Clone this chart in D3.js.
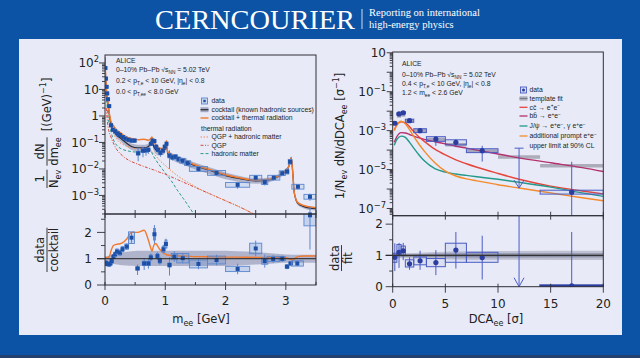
<!DOCTYPE html>
<html><head><meta charset="utf-8">
<script src="https://cdn.jsdelivr.net/npm/d3@7/dist/d3.min.js"></script>
<style>html,body{margin:0;padding:0;background:#0c53a5;overflow:hidden}svg{display:block}</style>
</head><body>
<svg id="chart" width="640" height="358" xmlns="http://www.w3.org/2000/svg"></svg>
<script>
// ================= DATA =================
// ---- left: invariant-mass spectrum ----
const massGrid=[0,0.01,0.02,0.03,0.05,0.07,0.1,0.14,0.2,0.25,0.3,0.36,0.44,0.54,0.65,0.72,0.76,0.78,0.8,0.84,0.9,0.97,1.0,1.02,1.04,1.1,1.2,1.3,1.5,1.8,2.0,2.2,2.5,2.7,2.8,2.9,3.0,3.05,3.09,3.11,3.14,3.2,3.3,3.5];
const cocktailLog10=[2.2,1.45,1.1,0.8,0.45,0.1,-0.33,-0.55,-0.74,-0.82,-0.92,-1.03,-1.15,-1.2,-1.2,-1.15,-1.0,-0.9,-1.1,-1.28,-1.35,-1.32,-1.25,-1.0,-1.42,-1.5,-1.62,-1.7,-1.88,-2.1,-2.25,-2.35,-2.45,-2.42,-2.36,-2.25,-2.07,-1.9,-1.58,-2.0,-2.9,-3.3,-3.42,-3.5];
const cocktailThermalLog10=[2.22,1.47,1.12,0.82,0.48,0.13,-0.22,-0.37,-0.55,-0.62,-0.71,-0.79,-0.85,-0.9,-0.88,-0.92,-0.85,-0.79,-0.94,-1.08,-1.21,-1.23,-1.18,-0.94,-1.36,-1.45,-1.58,-1.66,-1.85,-2.07,-2.22,-2.32,-2.43,-2.4,-2.34,-2.23,-2.05,-1.9,-1.59,-2.02,-2.9,-3.27,-3.38,-3.46];
const thermalOverCocktail=[1.05,1.05,1.05,1.05,1.06,1.08,1.3,1.5,1.55,1.57,1.62,1.75,2.0,2.0,2.08,1.7,1.4,1.28,1.45,1.58,1.38,1.22,1.18,1.15,1.14,1.12,1.1,1.1,1.08,1.07,1.06,1.06,1.05,1.05,1.05,1.05,1.04,1.0,0.97,0.95,1.0,1.08,1.1,1.1];
const cocktailBandLo=[.9,.9,.9,.9,.88,.86,.84,.8,.78,.76,.75,.74,.73,.72,.72,.72,.72,.72,.72,.72,.72,.72,.72,.72,.72,.72,.72,.72,.72,.72,.72,.74,.78,.8,.82,.84,.85,.85,.85,.85,.85,.85,.85,.85];
const cocktailBandHi=[1.08,1.08,1.08,1.08,1.1,1.12,1.14,1.18,1.2,1.22,1.24,1.26,1.28,1.3,1.3,1.3,1.3,1.3,1.3,1.3,1.3,1.3,1.3,1.3,1.3,1.3,1.3,1.3,1.3,1.3,1.3,1.28,1.25,1.22,1.2,1.18,1.16,1.16,1.15,1.15,1.15,1.15,1.15,1.15];
const thermalMass=[0.02,0.05,0.1,0.15,0.2,0.3,0.4,0.5,0.6,0.7,0.8,0.9,1.0,1.1,1.2,1.4,1.6,1.8,2.0,2.2,2.4,2.55];
const qgpHadLog10=[0.92,0.15,-0.39,-0.71,-0.89,-1.08,-1.17,-1.22,-1.24,-1.21,-1.39,-1.66,-1.87,-2.07,-2.25,-2.54,-2.79,-3.0,-3.2,-3.4,-3.62,-3.8];
const qgpLog10=[0.3,-0.4,-0.8,-1.08,-1.28,-1.52,-1.68,-1.78,-1.87,-1.95,-2.03,-2.12,-2.2,-2.3,-2.4,-2.6,-2.8,-3.0,-3.2,-3.4,-3.62,-3.8];
const hadMass=[0.02,0.05,0.1,0.15,0.2,0.3,0.4,0.5,0.6,0.7,0.75,0.8,0.9,1.0,1.1,1.2,1.3,1.4,1.5,1.55];
const hadLog10=[0.8,0.0,-0.6,-0.95,-1.12,-1.27,-1.33,-1.36,-1.35,-1.3,-1.28,-1.5,-1.85,-2.15,-2.45,-2.8,-3.12,-3.45,-3.8,-4.0];
// data: [m, log10 value, half-width, statLo(dec), statHi(dec), sys(dec)]
const dataMee=[[0.005,1.81,0.005,0.03,0.03,0.05],[0.015,1.41,0.005,0.03,0.03,0.05],[0.025,1.10,0.005,0.03,0.03,0.05],[0.035,0.85,0.005,0.03,0.03,0.05],[0.05,0.63,0.01,0.03,0.03,0.05],[0.07,0.37,0.01,0.03,0.03,0.05],[0.10,-0.35,0.01,0.04,0.04,0.05],[0.13,-0.52,0.02,0.04,0.04,0.06],[0.17,-0.58,0.02,0.04,0.04,0.06],[0.21,-0.66,0.02,0.05,0.05,0.06],[0.25,-0.72,0.02,0.05,0.05,0.06],[0.30,-0.80,0.02,0.05,0.05,0.06],[0.34,-0.86,0.02,0.05,0.05,0.06],[0.39,-0.90,0.025,0.05,0.05,0.06],[0.44,-0.93,0.025,0.06,0.06,0.06],[0.49,-0.93,0.025,0.06,0.06,0.06],[0.55,-1.41,0.03,0.3,0.2,0.06],[0.63,-1.31,0.03,0.25,0.15,0.06],[0.68,-1.30,0.02,0.2,0.12,0.06],[0.72,-1.28,0.02,0.15,0.1,0.06],[0.76,-1.05,0.015,0.08,0.06,0.06],[0.79,-0.93,0.015,0.05,0.05,0.06],[0.82,-0.95,0.015,0.06,0.06,0.06],[0.85,-1.16,0.015,0.08,0.07,0.06],[0.88,-1.28,0.015,0.12,0.1,0.06],[0.92,-1.39,0.02,0.15,0.1,0.06],[0.96,-1.31,0.02,0.1,0.08,0.06],[0.99,-1.16,0.015,0.08,0.07,0.06],[1.02,-1.05,0.015,0.06,0.06,0.06],[1.07,-1.50,0.025,0.5,0.2,0.08],[1.12,-1.56,0.025,0.12,0.1,0.08],[1.17,-1.54,0.025,0.1,0.08,0.08],[1.22,-1.63,0.025,0.1,0.08,0.08],[1.29,-1.69,0.05,0.1,0.08,0.09],[1.37,-1.78,0.05,0.1,0.08,0.09],[1.55,-2.00,0.15,0.1,0.08,0.09],[1.85,-2.15,0.15,0.1,0.08,0.09],[2.20,-2.60,0.2,0.15,0.1,0.09],[2.50,-2.33,0.1,0.1,0.08,0.09],[2.65,-2.50,0.05,0.12,0.1,0.09],[2.80,-2.33,0.1,0.08,0.07,0.09],[2.94,-2.16,0.05,0.07,0.06,0.09],[3.02,-2.10,0.03,0.07,0.06,0.09],[3.07,-1.73,0.03,0.05,0.05,0.09],[3.20,-2.67,0.1,0.1,0.08,0.09],[3.40,-3.05,0.1,0.15,0.12,0.09],[3.40,-3.72,0,0.3,0.3,0]];
// ratio: [m, data/cocktail, half-width, statLo, statHi, sys]
const ratioMee=[[0.005,0.85,0.005,0.05,0.05,0.05],[0.015,0.84,0.005,0.05,0.05,0.05],[0.025,0.81,0.005,0.05,0.05,0.05],[0.035,0.80,0.005,0.05,0.05,0.05],[0.05,0.79,0.01,0.05,0.05,0.05],[0.07,0.78,0.01,0.05,0.05,0.05],[0.09,0.82,0.01,0.06,0.06,0.05],[0.11,0.91,0.01,0.07,0.07,0.07],[0.14,1.08,0.02,0.08,0.08,0.08],[0.17,1.17,0.02,0.08,0.08,0.08],[0.20,1.27,0.02,0.1,0.1,0.1],[0.25,1.23,0.02,0.1,0.1,0.1],[0.29,1.36,0.02,0.1,0.1,0.1],[0.36,1.46,0.03,0.12,0.12,0.1],[0.44,1.80,0.05,0.2,0.2,0.22],[0.54,0.63,0.03,0.25,0.15,0.06],[0.65,0.82,0.03,0.25,0.2,0.08],[0.72,0.82,0.03,0.2,0.2,0.08],[0.76,1.05,0.015,0.15,0.15,0.1],[0.82,1.93,0.015,0.35,0.35,0.22],[0.87,1.10,0.015,0.15,0.15,0.1],[0.91,0.92,0.02,0.15,0.15,0.1],[0.97,1.36,0.02,0.15,0.15,0.12],[1.01,1.56,0.015,0.2,0.2,0.15],[1.07,0.76,0.025,0.4,0.3,0.08],[1.15,1.08,0.05,0.2,0.2,0.12],[1.29,1.02,0.1,0.2,0.2,0.18],[1.55,0.80,0.15,0.2,0.2,0.15],[1.85,0.95,0.15,0.2,0.2,0.15],[2.20,0.61,0.2,0.2,0.2,0.1],[2.50,1.39,0.1,0.3,0.3,0.2],[2.65,0.91,0.05,0.25,0.25,0.12],[2.79,0.99,0.1,0.15,0.15,0.1],[2.94,1.00,0.05,0.12,0.12,0.08],[3.02,0.70,0.03,0.1,0.1,0.06],[3.08,0.82,0.03,0.08,0.08,0.06],[3.19,0.82,0.1,0.1,0.1,0.1],[3.40,2.65,0.1,1.3,0.5,0.4]];
const leftTopTicks=[[2,"10","2"],[1,"10",""],[0,"1",""],[-1,"10","−1"],[-2,"10","−2"],[-3,"10","−3"]];
const leftXTicks=[0,1,2,3];
const ratioYTicks=[0,1,2];

// ---- right: DCA spectrum ----
const dcaGrid=[0.15,0.4,0.8,1.2,1.6,2,2.5,3,4,5,6,7,8,10,12,15,18,20];
const ccLog10=[-2.95,-2.7,-2.55,-2.6,-2.8,-3.05,-3.33,-3.55,-3.95,-4.25,-4.5,-4.7,-4.88,-5.2,-5.5,-5.85,-6.1,-6.25];
const bbLog10=[-3.6,-3.3,-3.1,-3.12,-3.2,-3.28,-3.37,-3.45,-3.57,-3.68,-3.8,-3.9,-4.0,-4.2,-4.4,-4.65,-4.9,-5.1];
const jpsiLog10=[-3.75,-3.45,-3.28,-3.35,-3.6,-3.9,-4.25,-4.55,-4.95,-5.13,-5.23,-5.3,-5.37,-5.5,-5.65,-5.9,-6.2,-6.38];
const promptLog10=[-3.0,-2.7,-2.52,-2.65,-2.95,-3.3,-3.7,-4.05,-4.65,-5.08,-5.33,-5.48,-5.58,-5.78,-5.95,-6.2,-6.45,-6.6];
// template fit per bin: [x0, x1, log10]
const templateFit=[[0,0.4,-2.6],[0.4,0.8,-2.25],[0.8,1.2,-2.2],[1.2,2.0,-2.5],[2.0,3.2,-3.0],[3.2,5.0,-3.45],[5.0,7.0,-3.72],[7.0,10.0,-4.05],[10,14,-4.36],[14,20,-4.81]];
// data: [dca, log10, x0, x1, sys(dec), statLo(dec), statHi(dec)]
const dataDca=[[0.2,-2.62,0,0.4,0.05,0.04,0.04],[0.6,-2.14,0.4,0.8,0.05,0.04,0.04],[1.0,-2.08,0.8,1.2,0.05,0.04,0.04],[1.6,-2.49,1.2,2.0,0.08,0.06,0.06],[2.6,-3.00,2.0,3.2,0.1,0.1,0.1],[4.1,-3.43,3.2,5.0,0.12,0.35,0.15],[6.0,-3.60,5.0,7.0,0.13,0.25,0.15],[8.5,-4.03,7.0,10.0,0.1,0.56,0.25],[17,-6.16,14,20,0.1,2.0,1.56]];
const upperLimit={x:12,topLog10:-3.9,tipLog10:-5.95};
// ratio: [dca, data/fit, x0, x1, statLo, statHi, sysLo, sysHi]
const ratioDca=[[0.2,0.94,0,0.4,0.44,0.45,0.16,0.13],[0.6,1.10,0.4,0.8,0.5,0.3,0.1,0.25],[1.0,1.15,0.8,1.2,0.3,0.25,0.15,0.15],[1.6,0.73,1.2,2.0,0.19,0.21,0.1,0.13],[2.6,0.83,2.0,3.2,0.29,0.32,0.13,0.12],[4.1,0.77,3.2,5.0,0.4,0.4,0.13,0.13],[6.0,1.17,5.0,7.0,0.59,0.58,0.39,0.22],[8.5,0.93,7.0,10.0,0.7,0.7,0.15,0.17],[17,0.03,14,20,0.03,1.72,0.02,0.02]];
const fitBandDca=[0,2,5,10,20];
const fitBandOuterLo=[0.92,0.9,0.88,0.86,0.85], fitBandOuterHi=[1.06,1.08,1.12,1.14,1.15];
const fitBandInnerLo=[0.96,0.95,0.94,0.93,0.93], fitBandInnerHi=[1.03,1.04,1.06,1.07,1.07];
const rightTopTicks=[[1,"10",""],[-1,"10","−1"],[-3,"10","−3"],[-5,"10","−5"],[-7,"10","−7"]];
const rightXTicks=[0,5,10,15,20];

// ================= DRAW =================
const svg=d3.select('#chart');
const F='DejaVu Sans, sans-serif', FS='Liberation Sans, Arial, sans-serif';
const LF=6.8;
const P=v=>Math.pow(10,v);
const COL={frame:'#2e2e36',mark:'#1d4fa6',box:'#5a87cf',orange:'#f07a30',red:'#d9453a',teal:'#2a9a8c',
  rMark:'#2b3d9e',rBox:'#4a5cc4',cc:'#e6453c',bb:'#b5306e',jp:'#23998a',pr:'#f58a2c'};

svg.append('rect').attr('width',640).attr('height',358).attr('fill','#0c53a5');
svg.append('rect').attr('x',19).attr('y',39).attr('width',603).attr('height',296).attr('fill','#e8ebf7');
svg.append('rect').attr('y',355).attr('width',640).attr('height',3).attr('fill','#24406e');
// header
svg.append('text').attr('x',155).attr('y',29).attr('font-family','Liberation Serif, Times New Roman, serif')
  .attr('font-size',28).attr('fill','#fff').attr('textLength',200).attr('lengthAdjust','spacingAndGlyphs').text('CERNCOURIER');
svg.append('line').attr('x1',362).attr('x2',362).attr('y1',9).attr('y2',29).attr('stroke','#fff').attr('stroke-width',0.8);
['Reporting on international','high-energy physics'].forEach((t,i)=>svg.append('text').attr('x',369).attr('y',16+i*12)
  .attr('font-family','Liberation Serif, Times New Roman, serif').attr('font-size',10.5).attr('fill','#fff').text(t));

function rich(sel,parts,fs){
  let off=0;
  parts.forEach(p=>{
    const [t,k]=Array.isArray(p)?p:[p,null];
    const target=k==='sub'?0.28*fs:k==='sup'?-0.42*fs:0;
    sel.append('tspan').attr('dy',target-off).attr('font-size',k?fs*0.7:fs).text(t);
    off=target;
  });
  return sel;
}
function txt(g,x,y,parts,fs,opt={}){
  const t=g.append('text').attr('x',x).attr('y',y).attr('font-family',opt.font||F).attr('font-size',fs)
    .attr('fill',opt.fill||'#222').attr('text-anchor',opt.anchor||'start');
  return rich(t,parts,fs);
}
const lineGen=(xs,ys,xS,yS)=>d3.line().x((d,i)=>xS(xs[i])).y((d,i)=>yS(P(ys[i]))).curve(d3.curveMonotoneX)(ys);

// ---------- LEFT ----------
const LX0=105,LX1=316,LYT=55,LYM=214,LYB=285;
const xL=d3.scaleLinear().domain([0,3.5]).range([LX0,LX1]);
const yLt=d3.scaleLog().domain([P(-3.7),P(2.3)]).range([LYM,LYT]);
const yLb=d3.scaleLinear().domain([0,2.7]).range([LYB,LYM]);
const defs=svg.append('defs');
defs.append('clipPath').attr('id','clt').append('rect').attr('x',LX0).attr('y',LYT).attr('width',LX1-LX0).attr('height',LYM-LYT);
defs.append('clipPath').attr('id','clb').append('rect').attr('x',LX0).attr('y',LYM).attr('width',LX1-LX0).attr('height',LYB-LYM);
const gLt=svg.append('g').attr('clip-path','url(#clt)');
const gLb=svg.append('g').attr('clip-path','url(#clb)');
const idx=d3.range(massGrid.length);
gLt.append('path').attr('fill','#a6a9c4').attr('opacity',0.85)
  .attr('d',d3.area().x(i=>xL(massGrid[i])).y0(i=>yLt(P(cocktailLog10[i])*cocktailBandLo[i])).y1(i=>yLt(P(cocktailLog10[i])*cocktailBandHi[i])).curve(d3.curveMonotoneX)(idx));
gLt.append('path').attr('fill','none').attr('stroke',COL.teal).attr('stroke-width',1).attr('stroke-dasharray','3,2').attr('d',lineGen(hadMass,hadLog10,xL,yLt));
gLt.append('path').attr('fill','none').attr('stroke',COL.red).attr('stroke-width',1).attr('stroke-dasharray','3,1.5,1,1.5').attr('d',lineGen(thermalMass,qgpLog10,xL,yLt));
gLt.append('path').attr('fill','none').attr('stroke','#f08a50').attr('stroke-width',1).attr('stroke-dasharray','1.5,1.5').attr('d',lineGen(thermalMass,qgpHadLog10,xL,yLt));
gLt.append('path').attr('fill','none').attr('stroke','#2a2a35').attr('stroke-width',1.2).attr('d',lineGen(massGrid,cocktailLog10,xL,yLt));
gLt.append('path').attr('fill','none').attr('stroke',COL.orange).attr('stroke-width',1.5).attr('d',lineGen(massGrid,cocktailThermalLog10,xL,yLt));
dataMee.forEach(([m,v,hw,eL,eH,s])=>{
  const cx=xL(m),cy=yLt(P(v));
  gLt.append('line').attr('x1',cx).attr('x2',cx).attr('y1',yLt(P(v-eL))).attr('y2',yLt(P(v+eH))).attr('stroke',COL.box).attr('stroke-width',1);
  if(hw>0) gLt.append('rect').attr('x',xL(m-hw)).attr('y',yLt(P(v+s))).attr('width',Math.max(xL(m+hw)-xL(m-hw),2)).attr('height',yLt(P(v-s))-yLt(P(v+s)))
    .attr('fill','rgba(90,135,207,0.15)').attr('stroke',COL.box).attr('stroke-width',0.9);
  gLt.append('rect').attr('x',cx-2).attr('y',cy-2).attr('width',4).attr('height',4).attr('fill',COL.mark);
});
gLb.append('path').attr('fill','#a6a9c4').attr('opacity',0.85)
  .attr('d',d3.area().x(i=>xL(massGrid[i])).y0(i=>yLb(cocktailBandLo[i])).y1(i=>yLb(cocktailBandHi[i])).curve(d3.curveMonotoneX)(idx));
svg.append('line').attr('x1',97).attr('x2',LX1).attr('y1',yLb(1)).attr('y2',yLb(1)).attr('stroke','#222').attr('stroke-width',1);
gLb.append('path').attr('fill','none').attr('stroke',COL.orange).attr('stroke-width',1.4)
  .attr('d',d3.line().x(i=>xL(massGrid[i])).y(i=>yLb(thermalOverCocktail[i])).curve(d3.curveMonotoneX)(idx));
ratioMee.forEach(([m,r,hw,eL,eH,s])=>{
  const cx=xL(m),cy=yLb(r);
  gLb.append('line').attr('x1',cx).attr('x2',cx).attr('y1',yLb(r-eL)).attr('y2',yLb(r+eH)).attr('stroke',COL.box).attr('stroke-width',1);
  gLb.append('rect').attr('x',xL(m-hw)).attr('y',yLb(r+s)).attr('width',Math.max(xL(m+hw)-xL(m-hw),2)).attr('height',yLb(r-s)-yLb(r+s))
    .attr('fill','rgba(90,135,207,0.25)').attr('stroke',COL.box).attr('stroke-width',0.9);
  gLb.append('rect').attr('x',cx-2).attr('y',cy-2).attr('width',4).attr('height',4).attr('fill',COL.mark);
});
[[LYT,LYM],[LYM,LYB]].forEach(([a,b])=>svg.append('rect').attr('x',LX0).attr('y',a).attr('width',LX1-LX0).attr('height',b-a).attr('fill','none').attr('stroke',COL.frame).attr('stroke-width',1));
const ax=svg.append('g').attr('stroke',COL.frame).attr('stroke-width',0.9);
for(let e=-4;e<=2;e++){
  if(e>=-3.7&&e<=2.3) ax.append('line').attr('x1',LX0-6).attr('x2',LX0).attr('y1',yLt(P(e))).attr('y2',yLt(P(e)));
  for(let k=2;k<10;k++){const v=e+Math.log10(k); if(v>-3.7&&v<2.3) ax.append('line').attr('x1',LX0-3).attr('x2',LX0).attr('y1',yLt(P(v))).attr('y2',yLt(P(v)));}
}
d3.range(0,3.51,0.5).forEach(m=>{
  ax.append('line').attr('x1',xL(m)).attr('x2',xL(m)).attr('y1',LYM-4).attr('y2',LYM+4);
  ax.append('line').attr('x1',xL(m)).attr('x2',xL(m)).attr('y1',LYB-3).attr('y2',LYB+(m%1===0?5:0));
});
d3.range(0,2.51,0.5).forEach(v=>ax.append('line').attr('x1',LX0-(v%1===0?8:4)).attr('x2',LX0).attr('y1',yLb(v)).attr('y2',yLb(v)));
leftTopTicks.forEach(([e,b,s])=>txt(svg,99,yLt(P(e))+4.3,s?[b,[s,'sup']]:[b],12,{anchor:'end'}));
ratioYTicks.forEach(v=>txt(svg,92,yLb(v)+4.3,[String(v)],12,{anchor:'end'}));
leftXTicks.forEach(v=>txt(svg,xL(v),304.5,[String(v)],12,{anchor:'middle'}));
txt(svg,201,323,['m',['ee','sub'],' [GeV]'],11.5,{anchor:'middle'});

function fracTitle(ox,oy,fracs,unit,fs){
  const g=svg.append('g').attr('transform',`translate(${ox},${oy}) rotate(-90)`);
  let x=0;
  fracs.forEach(([num,den])=>{
    const tn=txt(g,0,-3,num,fs,{}); const td=txt(g,0,fs*0.8+1.5,den,fs,{});
    const wn=tn.node().getComputedTextLength(), wd=td.node().getComputedTextLength();
    const w=Math.max(wn,wd);
    tn.attr('x',x+(w-wn)/2); td.attr('x',x+(w-wd)/2);
    g.append('line').attr('x1',x).attr('x2',x+w).attr('y1',0).attr('y2',0).attr('stroke','#222').attr('stroke-width',0.9);
    x+=w+4;
  });
  if(unit){ txt(g,x+2,fs*0.36,unit,fs,{}); }
  return g;
}
fracTitle(47,188,[[['1'],['N',['ev','sub']]],[['dN'],['dm',['ee','sub']]]],['[(GeV)',['−1','sup'],']'],11.5);
fracTitle(47,272,[[['data'],['cocktail']]],null,11.5);

const iL=[['ALICE'],['0–10% Pb–Pb √s',['NN','sub'],' = 5.02 TeV'],['0.2 < p',['T,e','sub'],' < 10 GeV, |η',['e','sub'],'| < 0.8'],['0.0 < p',['T,ee','sub'],' < 8.0 GeV']];
[62.7,71.7,83.2,94.2].forEach((y,i)=>txt(svg,116,y,iL[i],LF,{font:FS}));
const lg=svg.append('g');
const legRowsL=[101,109.7,118,128.5,137,145.3,153.6];
lg.append('rect').attr('x',201.5).attr('y',legRowsL[0]-3).attr('width',6).attr('height',6).attr('fill','rgba(90,135,207,0.2)').attr('stroke',COL.box).attr('stroke-width',0.9);
lg.append('rect').attr('x',203.3).attr('y',legRowsL[0]-1.2).attr('width',2.4).attr('height',2.4).attr('fill',COL.mark);
lg.append('rect').attr('x',200.5).attr('y',legRowsL[1]-2.5).attr('width',8).attr('height',5).attr('fill','#a6a9c4');
lg.append('line').attr('x1',200.5).attr('x2',208.5).attr('y1',legRowsL[1]).attr('y2',legRowsL[1]).attr('stroke','#2a2a35').attr('stroke-width',1.2);
lg.append('line').attr('x1',200.5).attr('x2',208.5).attr('y1',legRowsL[2]).attr('y2',legRowsL[2]).attr('stroke',COL.orange).attr('stroke-width',1.4);
lg.append('line').attr('x1',200.5).attr('x2',208.5).attr('y1',legRowsL[4]).attr('y2',legRowsL[4]).attr('stroke','#f08a50').attr('stroke-dasharray','1.5,1.5');
lg.append('line').attr('x1',200.5).attr('x2',208.5).attr('y1',legRowsL[5]).attr('y2',legRowsL[5]).attr('stroke',COL.red).attr('stroke-dasharray','3,1.5,1,1.5');
lg.append('line').attr('x1',200.5).attr('x2',208.5).attr('y1',legRowsL[6]).attr('y2',legRowsL[6]).attr('stroke',COL.teal).attr('stroke-dasharray','3,2');
const legTxtL=['data','cocktail (known hadronic sources)','cocktail + thermal radiation','thermal radiation','QGP + hadronic matter','QGP','hadronic matter'];
legTxtL.forEach((t,i)=>txt(lg,i===3?201:211.5,legRowsL[i]+2.4,[t],LF,{font:FS}));

// ---------- RIGHT ----------
const RX0=392.7,RX1=603.3,RYT=52,RYM=215.7,RYB=286.7;
const xR=d3.scaleLinear().domain([0,20]).range([RX0,RX1]);
const yRt=d3.scaleLog().domain([P(-7.37),P(1.04)]).range([RYM,RYT]);
const yRb=d3.scaleLinear().domain([0,2.27]).range([RYB,RYM]);
defs.append('clipPath').attr('id','crt').append('rect').attr('x',RX0).attr('y',RYT).attr('width',RX1-RX0).attr('height',RYM-RYT);
defs.append('clipPath').attr('id','crb').append('rect').attr('x',RX0).attr('y',RYM).attr('width',RX1-RX0).attr('height',RYB-RYM);
const gRt=svg.append('g').attr('clip-path','url(#crt)');
const gRb=svg.append('g').attr('clip-path','url(#crb)');
templateFit.forEach(([a,b,v])=>gRt.append('line').attr('x1',xR(a)).attr('x2',xR(b)).attr('y1',yRt(P(v))).attr('y2',yRt(P(v))).attr('stroke','#acacba').attr('stroke-width',3.5));
[[bbLog10,COL.bb],[ccLog10,COL.cc],[jpsiLog10,COL.jp],[promptLog10,COL.pr]].forEach(([ys,c])=>
  gRt.append('path').attr('fill','none').attr('stroke',c).attr('stroke-width',1.4).attr('d',lineGen(dcaGrid,ys,xR,yRt)));
dataDca.forEach(([x,v,a,b,s,eL,eH])=>{
  gRt.append('line').attr('x1',xR(x)).attr('x2',xR(x)).attr('y1',yRt(P(v-eL))).attr('y2',yRt(P(v+eH))).attr('stroke',COL.rBox).attr('stroke-width',1);
  gRt.append('rect').attr('x',xR(a)).attr('y',yRt(P(v+s))).attr('width',xR(b)-xR(a)).attr('height',yRt(P(v-s))-yRt(P(v+s)))
    .attr('fill','rgba(74,92,196,0.08)').attr('stroke',COL.rBox).attr('stroke-width',1);
  gRt.append('circle').attr('cx',xR(x)).attr('cy',yRt(P(v))).attr('r',2.6).attr('fill',COL.rMark);
});
{
  const ux=xR(upperLimit.x), y0=yRt(P(upperLimit.topLog10)), y1=yRt(P(upperLimit.tipLog10));
  gRt.append('line').attr('x1',ux).attr('x2',ux).attr('y1',y0).attr('y2',y1).attr('stroke',COL.rBox).attr('stroke-width',1);
  gRt.append('line').attr('x1',ux-4.5).attr('x2',ux+4.5).attr('y1',y0).attr('y2',y0).attr('stroke',COL.rBox).attr('stroke-width',1);
  gRt.append('path').attr('d',`M${ux-5},${y1-8}L${ux},${y1}L${ux+5},${y1-8}`).attr('fill','none').attr('stroke',COL.rBox).attr('stroke-width',1);
}
const bi=d3.range(fitBandDca.length);
gRb.append('path').attr('fill','#bfc1d2').attr('d',d3.area().x(i=>xR(fitBandDca[i])).y0(i=>yRb(fitBandOuterLo[i])).y1(i=>yRb(fitBandOuterHi[i])).curve(d3.curveMonotoneX)(bi));
gRb.append('path').attr('fill','#8f93a8').attr('d',d3.area().x(i=>xR(fitBandDca[i])).y0(i=>yRb(fitBandInnerLo[i])).y1(i=>yRb(fitBandInnerHi[i])).curve(d3.curveMonotoneX)(bi));
svg.append('line').attr('x1',RX0-7).attr('x2',RX1).attr('y1',yRb(1)).attr('y2',yRb(1)).attr('stroke','#333').attr('stroke-width',1.1);
ratioDca.forEach(([x,r,a,b,eL,eH,sL,sH])=>{
  gRb.append('line').attr('x1',xR(x)).attr('x2',xR(x)).attr('y1',yRb(r-eL)).attr('y2',yRb(r+eH)).attr('stroke',COL.rBox).attr('stroke-width',1);
  gRb.append('rect').attr('x',xR(a)).attr('y',yRb(r+sH)).attr('width',xR(b)-xR(a)).attr('height',Math.max(yRb(r-sL)-yRb(r+sH),1))
    .attr('fill','rgba(74,92,196,0.08)').attr('stroke',r<0.1?'#2b3d9e':COL.rBox).attr('stroke-width',r<0.1?1.6:1);
  gRb.append('circle').attr('cx',xR(x)).attr('cy',yRb(r)).attr('r',2.6).attr('fill',COL.rMark);
});
{
  const ux=xR(upperLimit.x);
  gRb.append('line').attr('x1',ux).attr('x2',ux).attr('y1',RYM).attr('y2',yRb(0)).attr('stroke',COL.rBox).attr('stroke-width',1);
  gRb.append('path').attr('d',`M${ux-5},${yRb(0)-9}L${ux},${yRb(0)}L${ux+5},${yRb(0)-9}`).attr('fill','none').attr('stroke',COL.rBox).attr('stroke-width',1);
}
[[RYT,RYM],[RYM,RYB]].forEach(([a,b])=>svg.append('rect').attr('x',RX0).attr('y',a).attr('width',RX1-RX0).attr('height',b-a).attr('fill','none').attr('stroke',COL.frame).attr('stroke-width',1));
for(let e=-8;e<=1;e++){
  if(e>=-7.37&&e<=1.04) ax.append('line').attr('x1',RX0-6).attr('x2',RX0).attr('y1',yRt(P(e))).attr('y2',yRt(P(e)));
  for(let k=2;k<10;k++){const v=e+Math.log10(k); if(v>-7.37&&v<1.04) ax.append('line').attr('x1',RX0-3).attr('x2',RX0).attr('y1',yRt(P(v))).attr('y2',yRt(P(v)));}
}
rightXTicks.forEach(v=>{
  ax.append('line').attr('x1',xR(v)).attr('x2',xR(v)).attr('y1',RYM-4).attr('y2',RYM+4);
  ax.append('line').attr('x1',xR(v)).attr('x2',xR(v)).attr('y1',RYB-3).attr('y2',RYB+6);
});
d3.range(0,2.01,0.5).forEach(v=>ax.append('line').attr('x1',RX0-(v%1===0?7:3.5)).attr('x2',RX0).attr('y1',yRb(v)).attr('y2',yRb(v)));
ax.raise();
rightTopTicks.forEach(([e,b,s])=>txt(svg,386,yRt(P(e))+4.3,s?[b,[s,'sup']]:[b],12,{anchor:'end'}));
ratioYTicks.forEach(v=>txt(svg,383,yRb(v)+4.3,[String(v)],12,{anchor:'end'}));
rightXTicks.forEach(v=>txt(svg,xR(v),307.5,[String(v)],12,{anchor:'middle'}));
txt(svg,496,322.5,['DCA',['ee','sub'],' [σ]'],11.5,{anchor:'middle'});
{
  const g=svg.append('g').attr('transform','translate(344,136) rotate(-90)');
  txt(g,0,0,['1/N',['ev','sub'],' dN/dDCA',['ee','sub'],' [σ',['−1','sup'],']'],11.5,{anchor:'middle'});
}
fracTitle(341.5,271,[[['data'],['fit']]],null,11.5);
const iR=[['ALICE'],['0–10% Pb–Pb √s',['NN','sub'],' = 5.02 TeV'],['0.4 < p',['T,e','sub'],' < 10 GeV, |η',['e','sub'],'| < 0.8'],['1.2 < m',['ee','sub'],' < 2.6 GeV']];
[65.7,76.7,85.7,94.7].forEach((y,i)=>txt(svg,402,y,iR[i],LF,{font:FS}));
const legRowsR=[90,98.5,107.3,116,126,136,145.3];
const lr=svg.append('g');
lr.append('rect').attr('x',520.5).attr('y',legRowsR[0]-3).attr('width',6).attr('height',6).attr('fill','rgba(74,92,196,0.1)').attr('stroke',COL.rBox).attr('stroke-width',0.9);
lr.append('circle').attr('cx',523.5).attr('cy',legRowsR[0]).attr('r',1.5).attr('fill',COL.rMark);
lr.append('rect').attr('x',519.5).attr('y',legRowsR[1]-2.2).attr('width',8).attr('height',4.4).attr('fill','#acacba');
lr.append('line').attr('x1',519.5).attr('x2',527.5).attr('y1',legRowsR[1]).attr('y2',legRowsR[1]).attr('stroke','#6a6a78').attr('stroke-width',0.8);
[COL.cc,COL.bb,COL.jp,COL.pr].forEach((c,i)=>lr.append('line').attr('x1',519.5).attr('x2',527.5).attr('y1',legRowsR[i+2]).attr('y2',legRowsR[i+2]).attr('stroke',c).attr('stroke-width',1.3));
const legTxtR=[['data'],['template fit'],['cc̄ → e',['+','sup'],'e',['−','sup']],['bb̄ → e',['+','sup'],'e',['−','sup']],['J/ψ → e',['+','sup'],'e',['−','sup'],', γ e',['+','sup'],'e',['−','sup']],['additional prompt e',['+','sup'],'e',['−','sup']],['upper limit at 90% CL']];
legTxtR.forEach((t,i)=>txt(lr,529.5,legRowsR[i]+2.4,t,LF,{font:FS}));
</script>
</body></html>
